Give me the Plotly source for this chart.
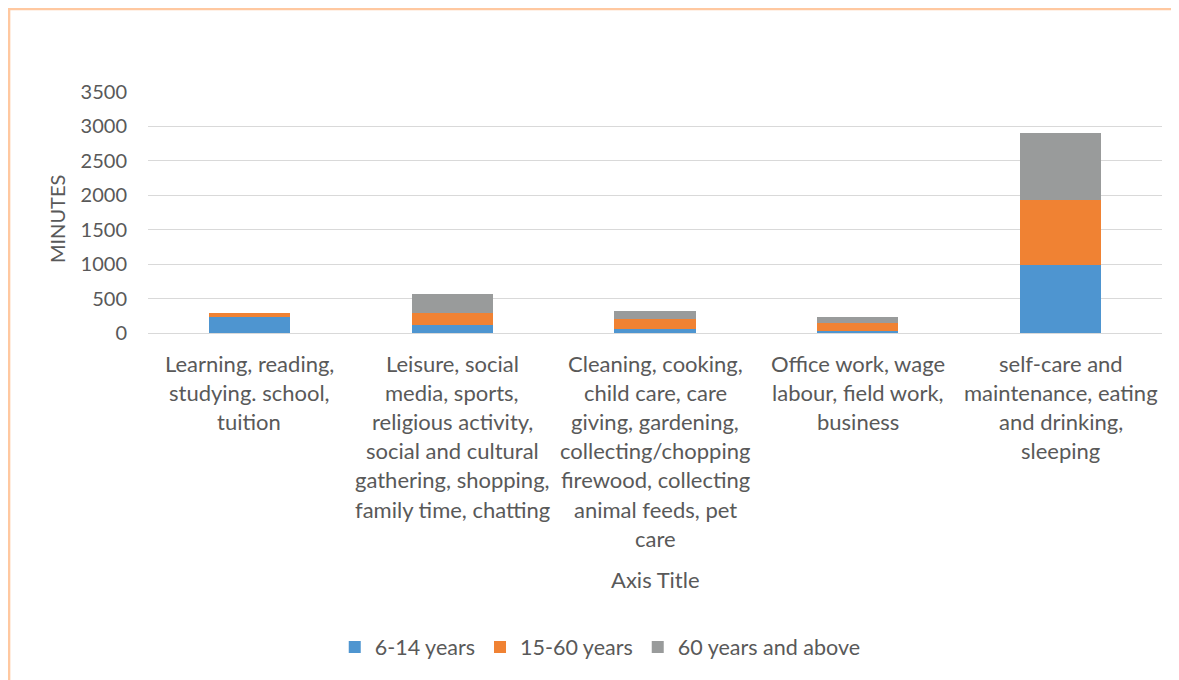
import plotly.graph_objects as go

# Categories (wrapped lines as in the original axis labels)
categories = ["Learning", "Leisure", "Cleaning", "Office", "Self-care"]
category_lines = [
    ["Learning, reading,", "studying. school,", "tuition"],
    ["Leisure, social", "media, sports,", "religious activity,", "social and cultural",
     "gathering, shopping,", "family time, chatting"],
    ["Cleaning, cooking,", "child care, care", "giving, gardening,", "collecting/chopping",
     "firewood, collecting", "animal feeds, pet", "care"],
    ["Office work, wage", "labour, field work,", "business"],
    ["self-care and", "maintenance, eating", "and drinking,", "sleeping"],
]

# Minutes per age group
age_6_14 = [227, 116, 58, 29, 982]
age_15_60 = [64, 168, 140, 116, 944]
age_60_plus = [0, 286, 116, 87, 979]

series_names = ["6-14 years", "15-60 years", "60 years and above"]
series_colors = ["#4E95D0", "#F08233", "#999B9B"]

FONT = "Lato"
TEXT = "#595959"

fig = go.Figure()
for name, vals, col in zip(series_names, [age_6_14, age_15_60, age_60_plus], series_colors):
    fig.add_trace(go.Bar(x=categories, y=vals, name=name, marker_color=col,
                         marker_line_width=0))

# multi-line category labels, one annotation per line for Excel-like spacing
for cat, lines in zip(categories, category_lines):
    for i, line in enumerate(lines):
        fig.add_annotation(x=cat, y=0, xref="x", yref="paper", text=line,
                           showarrow=False, yanchor="middle",
                           yshift=-30 - i * 29.2,
                           font=dict(family=FONT, size=22, color=TEXT))

fig.add_annotation(x=0.500, y=0, xref="paper", yref="paper", text="Axis Title",
                   showarrow=False, yanchor="middle", yshift=-246,
                   font=dict(family=FONT, size=22, color=TEXT))

# y axis title
fig.add_annotation(x=-0.0897, y=0.473, xref="paper", yref="paper", text="MINUTES",
                   showarrow=False, textangle=-90, xanchor="center", yanchor="middle",
                   font=dict(family=FONT, size=20, color=TEXT))

# outer chart border
fig.add_shape(type="rect", xref="paper", yref="paper",
              x0=-0.137, x1=1.03, y0=-1.5, y1=1.344,
              line=dict(color="#FFC8A0", width=2.5), layer="below")

fig.update_layout(
    width=1171, height=672,
    barmode="stack", bargap=0.6,
    margin=dict(l=140, r=17, t=84, b=347),
    plot_bgcolor="white", paper_bgcolor="white",
    font=dict(family=FONT, size=20, color=TEXT),
    xaxis=dict(showticklabels=False, showgrid=False, zeroline=False,
               showline=False),
    yaxis=dict(range=[0, 3500], dtick=500, gridcolor="#D9D9D9", gridwidth=1.3,
               zeroline=True, zerolinecolor="#D9D9D9", zerolinewidth=1.3,
               ticks="", ticklabelstandoff=20,
               tickfont=dict(family=FONT, size=20, color=TEXT)),
    legend=dict(orientation="h", x=0.446, xanchor="center", y=-1.303,
                yanchor="middle", traceorder="normal",
                font=dict(family=FONT, size=21.5, color=TEXT),
                itemwidth=30, entrywidthmode="pixels"),
)

fig.write_html("out.html")
